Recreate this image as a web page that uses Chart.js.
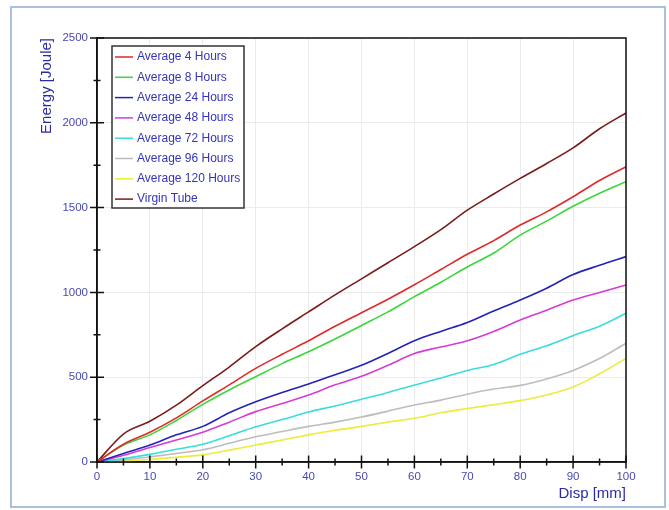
<!DOCTYPE html>
<html>
<head>
<meta charset="utf-8">
<script src="https://cdn.jsdelivr.net/npm/chart.js@4"></script>
<style>
  body { margin: 0; background: #fff; }
  #wrap { width: 669px; height: 510px; }
</style>
</head>
<body>
<div id="wrap"><canvas id="energy" width="669" height="510"></canvas></div>
<script>
// values, every 5 mm
const disp = [0, 5, 10, 15, 20, 25, 30, 35, 40, 45, 50, 55, 60, 65, 70, 75, 80, 85, 90, 95, 100];
const avg4 = [0, 105, 175, 260, 360, 455, 552, 635, 715, 800, 880, 960, 1045, 1135, 1225, 1305, 1397, 1475, 1564, 1660, 1741];
const avg8 = [0, 100, 160, 245, 340, 425, 503, 580, 650, 725, 805, 885, 975, 1060, 1150, 1232, 1338, 1420, 1508, 1585, 1653];
const avg24 = [0, 50, 100, 160, 210, 290, 355, 410, 460, 515, 570, 640, 715, 770, 822, 890, 955, 1025, 1105, 1160, 1211];
const avg48 = [0, 40, 85, 130, 175, 235, 297, 345, 395, 455, 505, 570, 640, 678, 715, 770, 837, 895, 955, 1000, 1044];
const avg72 = [0, 20, 45, 75, 105, 155, 208, 250, 295, 330, 370, 410, 454, 495, 540, 575, 635, 685, 745, 800, 877];
const avg96 = [0, 12, 30, 50, 72, 110, 149, 180, 210, 235, 265, 300, 336, 365, 400, 430, 452, 490, 540, 610, 700];
const avg120 = [0, 5, 15, 28, 42, 70, 100, 130, 160, 187, 210, 235, 258, 290, 315, 338, 362, 395, 442, 520, 611];
const virgin = [0, 165, 240, 335, 450, 560, 680, 785, 885, 985, 1080, 1175, 1270, 1370, 1485, 1580, 1672, 1760, 1852, 1965, 2058];

const names = ['Average 4 Hours', 'Average 8 Hours', 'Average 24 Hours', 'Average 48 Hours',
  'Average 72 Hours', 'Average 96 Hours', 'Average 120 Hours', 'Virgin Tube'];
const series = [avg4, avg8, avg24, avg48, avg72, avg96, avg120, virgin];
const colors = ['#dd2a2a', '#3ad63a', '#2424b4', '#d83ad8', '#3adcdc', '#bdbdbd', '#ecec3a', '#7a1c1c'];

const tickColor = '#4848b4';
const titleColor = '#2a2aa4';
const fontName = "'Liberation Sans', Arial, sans-serif";

// frame, crossing tick marks and legend box
const decor = {
  id: 'decor',
  beforeDraw(chart) {
    const ctx = chart.ctx;
    ctx.save();
    ctx.strokeStyle = '#a9c1de';
    ctx.lineWidth = 2;
    ctx.strokeRect(11, 7, 654, 500);
    ctx.restore();
  },
  afterDraw(chart) {
    const { ctx, chartArea: a, scales: { x, y } } = chart;
    ctx.save();
    ctx.strokeStyle = '#111';
    ctx.lineWidth = 1.5;
    ctx.strokeRect(a.left, a.top, a.right - a.left, a.bottom - a.top);
    ctx.beginPath();
    for (let v = 0; v <= 100; v += 5) {
      const px = x.getPixelForValue(v);
      const len = v % 10 === 0 ? 6.5 : 3.5;
      ctx.moveTo(px, a.bottom - len);
      ctx.lineTo(px, a.bottom + len);
    }
    for (let v = 0; v <= 2500; v += 250) {
      const py = y.getPixelForValue(v);
      const len = v % 500 === 0 ? 7 : 3.5;
      ctx.moveTo(a.left - len, py);
      ctx.lineTo(a.left + len, py);
    }
    ctx.stroke();

    // legend
    const bx = a.left + 15, by = a.top + 8, bw = 132, bh = 162;
    ctx.fillStyle = '#fff';
    ctx.fillRect(bx, by, bw, bh);
    ctx.strokeStyle = '#333';
    ctx.lineWidth = 1.5;
    ctx.strokeRect(bx, by, bw, bh);
    ctx.font = '12px ' + fontName;
    ctx.textBaseline = 'middle';
    chart.data.datasets.forEach((ds, i) => {
      const ry = by + 11 + i * 20.3;
      ctx.strokeStyle = ds.borderColor;
      ctx.lineWidth = 1.5;
      ctx.beginPath();
      ctx.moveTo(bx + 3, ry);
      ctx.lineTo(bx + 21, ry);
      ctx.stroke();
      ctx.fillStyle = '#3434b8';
      ctx.fillText(ds.label, bx + 25, ry);
    });
    ctx.restore();
  }
};

new Chart(document.getElementById('energy'), {
  type: 'line',
  data: {
    labels: disp,
    datasets: series.map((vals, i) => ({
      label: names[i],
      data: vals.map((v, j) => ({ x: disp[j], y: v })),
      borderColor: colors[i],
      borderWidth: 1.6,
      pointRadius: 0,
      fill: false,
      cubicInterpolationMode: 'monotone'
    }))
  },
  options: {
    responsive: false,
    animation: false,
    layout: { padding: { top: 38, right: 43, left: 0, bottom: 0 } },
    plugins: {
      legend: { display: false },
      tooltip: { enabled: false }
    },
    scales: {
      x: {
        type: 'linear',
        min: 0,
        max: 100,
        afterFit(scale) { scale.height = 48; },
        ticks: { stepSize: 10, color: tickColor, padding: 8, font: { family: fontName, size: 11.5 },
          callback: v => String(v) },
        grid: { color: '#ebebeb', drawTicks: false },
        border: { color: '#111', width: 1.5 },
        title: {
          display: true, text: 'Disp [mm]', align: 'end', color: titleColor,
          font: { family: fontName, size: 15 }, padding: { top: 0, bottom: 7 }
        }
      },
      y: {
        min: 0,
        max: 2500,
        afterFit(scale) { scale.width = 97; },
        ticks: { stepSize: 500, color: tickColor, padding: 9, font: { family: fontName, size: 11.5 },
          callback: v => String(v) },
        grid: { color: '#ebebeb', drawTicks: false },
        border: { color: '#111', width: 1.5 },
        title: {
          display: true, text: 'Energy [Joule]', align: 'end', color: titleColor,
          font: { family: fontName, size: 15 }, padding: { top: 38, bottom: 0 }
        }
      }
    }
  },
  plugins: [decor]
});
</script>
</body>
</html>
